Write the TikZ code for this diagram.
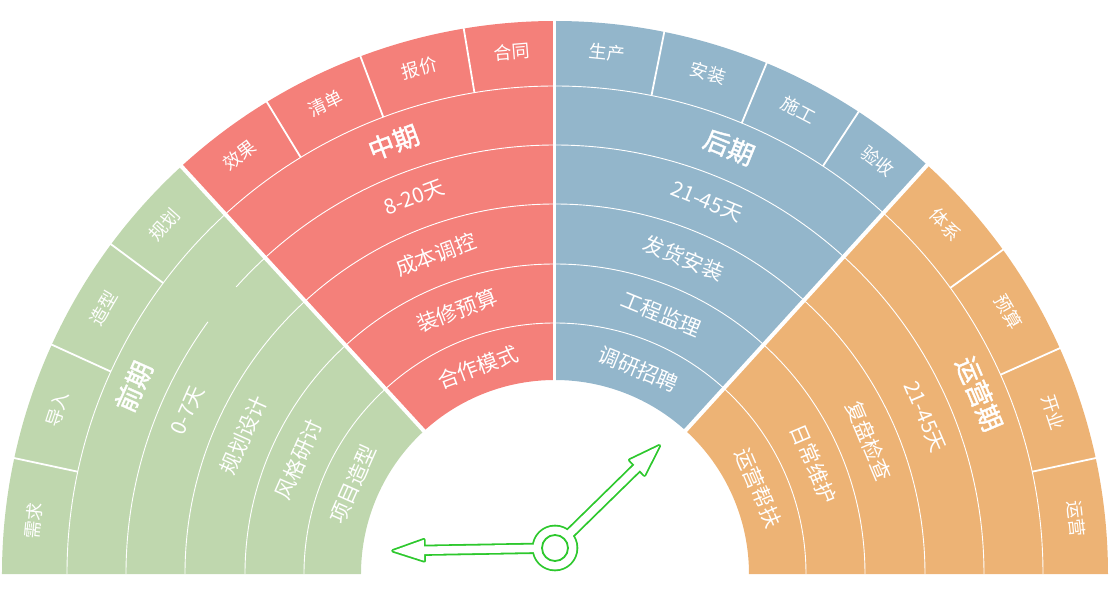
\documentclass[tikz,border=0pt]{standalone}
\usepackage{fontspec}
\setmainfont{Noto Sans CJK SC}
\newfontfamily\titlefont[FakeBold=1.6]{Noto Sans CJK SC}
\definecolor{qiancol}{HTML}{BFD7AE}
\definecolor{zhongcol}{HTML}{F4807A}
\definecolor{houcol}{HTML}{93B6CB}
\definecolor{yuncol}{HTML}{EDB375}
\definecolor{handcol}{HTML}{2DC82D}
\tikzstyle{ringtext}=[text=white,inner sep=0pt,font=\fontsize{21}{21}\selectfont]
\tikzstyle{titletext}=[text=white,inner sep=0pt,font=\titlefont\fontsize{26}{26}\selectfont]
\tikzstyle{tiletext}=[text=white,inner sep=0pt,font=\fontsize{18}{18}\selectfont]
\tikzstyle{ringline}=[white,line width=0.9pt]
\tikzstyle{tileline}=[white,line width=1.8pt]
\tikzstyle{gapline}=[white,line width=4pt]
\tikzstyle{hand}=[handcol,line width=3.6pt,line join=round]

\begin{document}
\begin{tikzpicture}[x=1pt,y=1pt]
    \useasboundingbox (-555,-21) rectangle (557,574);
    % four phases
    \foreach \a/\b/\col in {180/132.5/qiancol,132.5/90/zhongcol,90/47.7/houcol,47.7/0/yuncol}
        \fill[\col] (\a:194) arc[start angle=\a,end angle=\b,radius=194]
            -- (\b:553) arc[start angle=\b,end angle=\a,radius=553] -- cycle;
    % rings
    \foreach \r in {251,310,370,488}
        \draw[ringline] (180:\r) arc[start angle=180,end angle=0,radius=\r];
    \draw[ringline] (180:429) arc[start angle=180,end angle=144,radius=429];
    \draw[ringline] (138:429) arc[start angle=138,end angle=0,radius=429];
    % outer tiles
    \foreach \t in {167.9,155.5,143.4,121.4,110.6,99.5,78.6,67.5,56.7,35.9,24.1,12.1}
        \draw[tileline] (\t:488) -- (\t:554);
    \draw[gapline] (132.5:190) -- (132.5:556);
    \draw[gapline,line width=3pt] (90:190) -- (90:556);
    \draw[gapline] (47.7:190) -- (47.7:556);
    % ring labels
    \foreach \t/\ph/\la/\lb/\lc/\ld/\ttl in {156/qian/项目造型/风格研讨/规划设计/0-7天/前期,
            110.5/zhong/合作模式/装修预算/成本调控/8-20天/中期,
            67.8/hou/调研招聘/工程监理/发货安装/21-45天/后期,
            23/yun/运营帮扶/日常维护/复盘检查/21-45天/运营期}{
        \node[ringtext,rotate=\t-90] (\ph-a) at (\t:221) {\la};
        \node[ringtext,rotate=\t-90] (\ph-b) at (\t:281) {\lb};
        \node[ringtext,rotate=\t-90] (\ph-c) at (\t:341) {\lc};
        \node[ringtext,rotate=\t-90] (\ph-d) at (\t:402) {\ld};
        \node[titletext,rotate=\t-90] (\ph-title) at (\t:461) {\ttl};
    }
    \foreach \t/\txt [count=\i] in {174.2/需求,161.7/导入,149.5/造型,138.2/规划,
            127/效果,116/清单,105/报价,94.7/合同,
            84.3/生产,73/安装,62.3/施工,52/验收,
            41.8/体系,30/预算,18/开业,6.1/运营}
        \node[tiletext,rotate=\t-90] (tile\i) at (\t:524) {\txt};
    % clock hands
    \begin{scope}[shift={(0,26)}]
        \foreach \ang/\len in {181/162,44.4/146}
            \draw[hand,rotate=\ang] (0,-3.8) -- (\len-31,-3.8) -- (\len-31,-10.5) -- (\len,0)
                -- (\len-31,10.5) -- (\len-31,3.8) -- (0,3.8) -- cycle;
        \draw[hand] (0,0) circle[radius=21.5];
        \foreach \ang/\len in {181/162,44.4/146}
            \fill[white,rotate=\ang] (0,-3.8) -- (\len-31,-3.8) -- (\len-31,-10.5) -- (\len,0)
                -- (\len-31,10.5) -- (\len-31,3.8) -- (0,3.8) -- cycle;
        \fill[white] (0,0) circle[radius=21.5];
        \draw[handcol,line width=1.8pt] (0,0) circle[radius=13];
    \end{scope}
\end{tikzpicture}
\end{document}
